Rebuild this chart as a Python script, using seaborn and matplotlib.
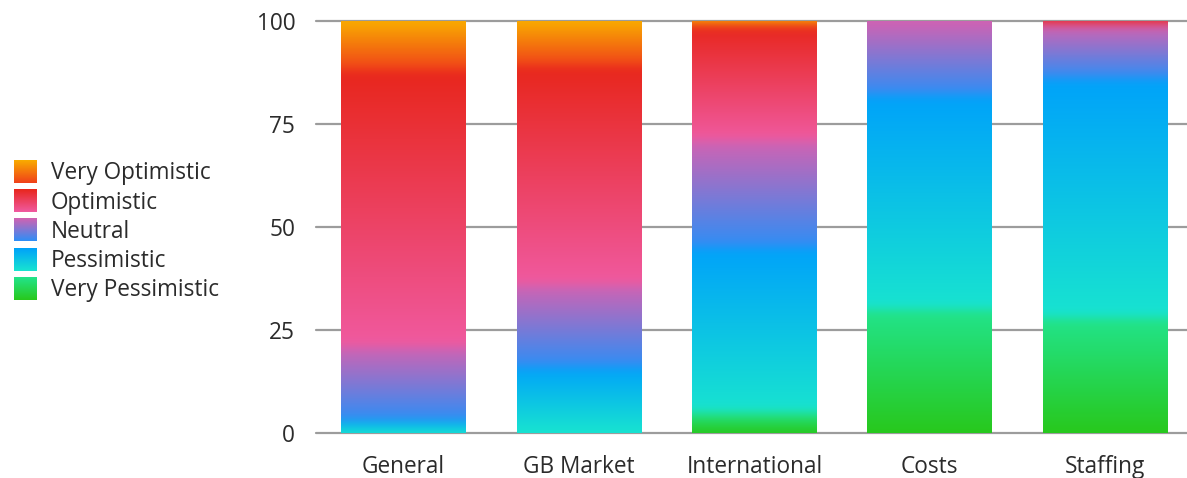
import numpy as np
import pandas as pd
import matplotlib
matplotlib.use("Agg")
import matplotlib.pyplot as plt
import seaborn as sns
from matplotlib.colors import to_rgb
from matplotlib.patches import Patch
from matplotlib.legend_handler import HandlerBase
from matplotlib.image import BboxImage
from matplotlib.transforms import Bbox, TransformedBbox

# Survey outlook shares (percent of respondents)
categories = ["General", "GB Market", "International", "Costs", "Staffing"]
very_pessimistic = [0, 0, 5, 30, 28]
pessimistic = [3, 16, 40, 52, 58]
neutral = [18, 20, 26, 18, 13]
optimistic = [67, 53, 28, 0, 1]
very_optimistic = [12, 11, 1, 0, 0]

series_names = ["Very Pessimistic", "Pessimistic", "Neutral", "Optimistic", "Very Optimistic"]
series_values = [very_pessimistic, pessimistic, neutral, optimistic, very_optimistic]
y_ticks = [0, 25, 50, 75, 100]

# Vertical gradient (top colour, bottom colour) for each series
gradients = {
    "Very Optimistic": ("#F9AC00", "#F0401A"),
    "Optimistic": ("#E8261C", "#F05AA0"),
    "Neutral": ("#D262B2", "#2E8EF6"),
    "Pessimistic": ("#00A2FA", "#18E4D0"),
    "Very Pessimistic": ("#22E48C", "#28C81C"),
}

sns.set_theme(style="white")
plt.rcParams["font.family"] = ["Open Sans", "DejaVu Sans"]
TEXT = "#2b2b2b"
GRID = "#9c9c9c"
FS = 16.3

fig = plt.figure(figsize=(11.87, 4.78), dpi=100)
ax = fig.add_axes([316 / 1187, 45 / 478, 871 / 1187, 412 / 478])

df = pd.DataFrame({"category": categories})
bottom = np.zeros(len(categories))
segments = {c: [] for c in categories}
for name, vals in zip(series_names, series_values):
    df[name] = vals
    n_before = len(ax.patches)
    top_c, bot_c = gradients[name]
    mid = tuple((np.array(to_rgb(top_c)) + np.array(to_rgb(bot_c))) / 2)
    sns.barplot(data=df, x="category", y=name, bottom=bottom, color=mid,
                width=0.71, errorbar=None, saturation=1, linewidth=0, ax=ax,
                zorder=2)
    for cat, patch in zip(categories, ax.patches[n_before:]):
        segments[cat].append((patch, name))
    bottom = bottom + np.array(vals, dtype=float)


def smooth(col, sigma):
    k = np.arange(-4 * sigma, 4 * sigma + 1)
    w = np.exp(-0.5 * (k / sigma) ** 2)
    w /= w.sum()
    pad = len(k) // 2
    out = np.empty_like(col)
    for ch in range(col.shape[1]):
        p = np.pad(col[:, ch], pad, mode="edge")
        out[:, ch] = np.convolve(p, w, mode="valid")
    return out


# Paint each stacked bar with its series gradients, softly blended at the joins
rows_per_unit = 10
for cat in categories:
    segs = [(p, n) for p, n in segments[cat] if p.get_height() > 0]
    x0 = segs[0][0].get_x()
    x1 = x0 + segs[0][0].get_width()
    y_top = max(p.get_y() + p.get_height() for p, _ in segs)
    nrows = int(round(y_top * rows_per_unit))
    ys = (np.arange(nrows) + 0.5) / rows_per_unit
    col = np.zeros((nrows, 3))
    for p, name in segs:
        lo, hi = p.get_y(), p.get_y() + p.get_height()
        m = (ys >= lo) & (ys < hi)
        t = (hi - ys[m]) / (hi - lo)
        c_top = np.array(to_rgb(gradients[name][0]))
        c_bot = np.array(to_rgb(gradients[name][1]))
        col[m] = c_top * (1 - t[:, None]) + c_bot * t[:, None]
    col = np.clip(smooth(col, 12), 0, 1)
    img = col[:, None, :]
    ax.imshow(img, extent=(x0, x1, 0, y_top), origin="lower", aspect="auto",
              interpolation="bilinear", zorder=3)

for y in y_ticks:
    ax.axhline(y, color=GRID, lw=1.6, zorder=1, clip_on=False)

ax.set_xlim(-0.5, 4.467)
ax.set_ylim(0, 100)
ax.set_yticks(y_ticks)
ax.set_yticklabels([str(v) for v in y_ticks])
ax.set_xlabel("")
ax.set_ylabel("")
for s in ax.spines.values():
    s.set_visible(False)
ax.tick_params(axis="y", length=0, pad=15, labelsize=FS, labelcolor=TEXT)
ax.tick_params(axis="x", length=0, pad=16, labelsize=FS, labelcolor=TEXT)
ax.grid(False)


class GradientSwatch(HandlerBase):
    def __init__(self, top, bot):
        super().__init__()
        t = np.linspace(0, 1, 64)[:, None]
        c = np.array(to_rgb(top)) * (1 - t) + np.array(to_rgb(bot)) * t
        self.img = c[:, None, :]

    def create_artists(self, legend, orig_handle, xdescent, ydescent,
                       width, height, fontsize, trans):
        bb = TransformedBbox(Bbox.from_bounds(-xdescent, -ydescent, width, height), trans)
        im = BboxImage(bb, interpolation="bilinear", origin="upper")
        im.set_data(self.img)
        return [im]


legend_order = series_names[::-1]
handles = [Patch(label=n) for n in legend_order]
handler_map = {h: GradientSwatch(*gradients[n]) for h, n in zip(handles, legend_order)}
leg = fig.legend(handles=handles, labels=legend_order, handler_map=handler_map,
                 loc="center left", bbox_to_anchor=(14 / 1187, 0.516),
                 frameon=False, fontsize=FS, handlelength=1.0,
                 handleheight=1.15, handletextpad=0.62, labelspacing=0.19,
                 borderpad=0, borderaxespad=0)
for t in leg.get_texts():
    t.set_color(TEXT)

fig.savefig("out.png", dpi=100, facecolor="white")
